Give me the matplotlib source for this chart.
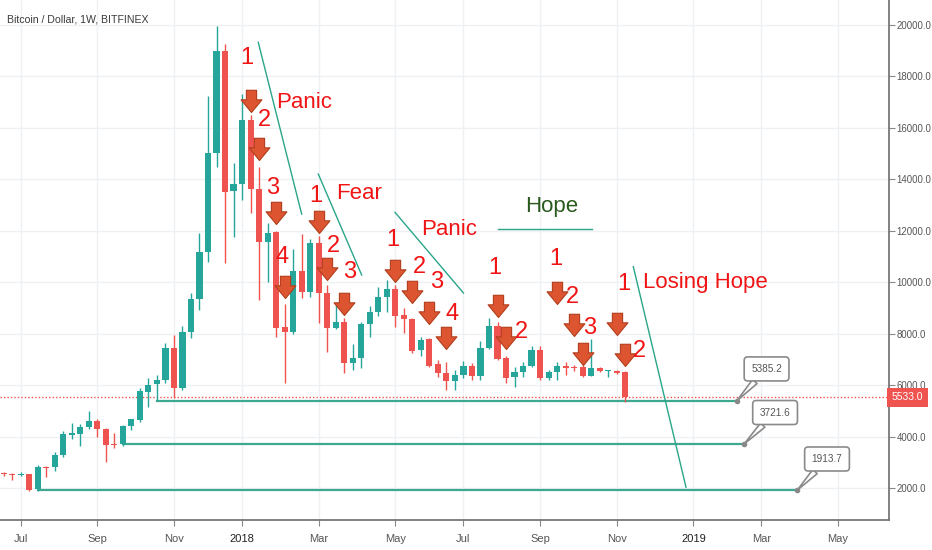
import matplotlib
matplotlib.use('Agg')
import matplotlib.pyplot as plt
import matplotlib.transforms as mtransforms
from matplotlib.path import Path
import numpy as np

plt.rcParams['font.family'] = ['Liberation Sans', 'DejaVu Sans']

# weekly candles, week 0 = 2017-07-03
weeks = np.arange(-2, 72)
opens = [2580, 2540, 2490, 2544, 1950, 2830, 2800, 3283, 4050, 4100, 4360, 4617, 4283, 3710,
         3722, 4410, 4644, 5745, 6044, 6200, 7430, 5890, 8077, 9348, 11188, 15025, 19003, 13560,
         13820, 16310, 13625, 11580, 11940, 8270, 8077, 10450, 9610, 11540, 9570, 8230, 8470, 6850,
         7040, 8380, 8830, 9440, 9725, 8730, 8570, 7365, 7785, 6820, 6490, 6170, 6390, 6740,
         6350, 7430, 8300, 7040, 6300, 6520, 6740, 7370, 6260, 6520, 6760, 6700, 6700, 6350,
         6660, 6540, 6550, 6510]
highs = [2620, 2580, 2620, 2560, 2900, 2850, 3410, 4200, 4540, 4500, 5005, 4700, 4350, 4120,
         4450, 4700, 5900, 6263, 6393, 7640, 7950, 8300, 9570, 11900, 17240, 19963, 19263, 14630,
         17320, 16500, 14500, 12290, 12000, 9150, 11290, 11875, 11700, 11790, 9900, 9240, 8600, 7600,
         8450, 9080, 9825, 10090, 9900, 8990, 8600, 7860, 7850, 6980, 6910, 6590, 6940, 6850,
         7730, 8600, 8450, 7150, 6690, 6910, 7520, 7520, 6600, 6910, 6910, 6780, 6780, 7785,
         6700, 6600, 6600, 6550]
lows = [2480, 2320, 2450, 1880, 1900, 2440, 2650, 3200, 3893, 3650, 4300, 3970, 3022, 3550,
        3650, 4250, 4550, 5160, 5385, 6080, 5500, 5800, 7820, 8920, 10800, 14500, 10760, 11760,
        13200, 12690, 9310, 10020, 7880, 6070, 8000, 9376, 9440, 8416, 7300, 8200, 6490, 6590,
        6650, 7880, 8690, 8860, 8270, 8020, 7260, 7130, 6700, 6330, 5810, 5810, 6260, 6200,
        6200, 7400, 6980, 6070, 5935, 6300, 6690, 6200, 6200, 6200, 6400, 6550, 6300, 6350,
        6500, 6330, 6440, 5350]
closes = [2530, 2490, 2520, 1920, 2830, 2780, 3283, 4100, 4127, 4385, 4617, 4283, 3670, 3660,
          4410, 4670, 5783, 6005, 6200, 7430, 5890, 8077, 9348, 11188, 15025, 19003, 13520, 13820,
          16310, 13625, 11580, 11900, 8230, 8077, 10450, 9610, 11540, 9570, 8230, 8470, 6850, 7040,
          8380, 8830, 9440, 9725, 8700, 8570, 7340, 7750, 6740, 6460, 6170, 6390, 6740, 6350,
          7430, 8300, 7020, 6260, 6520, 6740, 7370, 6260, 6520, 6740, 6650, 6650, 6350, 6650,
          6540, 6590, 6490, 5533]
last_price = 5533.0

tick_weeks = [0, 9, 18, 26, 35, 44, 52, 61, 70, 79, 87, 96]
tick_labels = ['Jul', 'Sep', 'Nov', '2018', 'Mar', 'May', 'Jul', 'Sep', 'Nov', '2019', 'Mar', 'May']

# support levels with callouts
levels = [5385.2, 3721.6, 1913.7]
level_start = [16, 12, 2]
level_end = [84.1, 85.0, 91.2]
callout_weeks = [87.6, 88.6, 94.7]
callout_prices = [6630, 4935, 3128]

# down arrows (tip position)
arrow_weeks = [27, 28, 30, 31, 35, 36, 38, 44, 46, 48, 50, 56, 57, 63, 65, 66, 70, 71]
arrow_prices = [16620, 14750, 12260, 9390, 11910, 10090, 8730, 10010, 9190, 8380, 7400,
                8650, 7390, 9150, 7910, 6780, 7950, 6740]

# counting digits
count_texts = ['1', '2', '3', '4', '1', '2', '3', '1', '2', '3', '4', '1', '2', '1', '2', '3', '1', '2']
count_weeks = [26.6, 28.6, 29.6, 30.7, 34.7, 36.7, 38.6, 43.7, 46.8, 48.8, 50.7, 55.7, 58.8,
               62.8, 64.8, 66.8, 70.8, 72.7]
count_prices = [18720, 16300, 13650, 11000, 13350, 11400, 10400, 11640, 10600, 10020, 8760,
                10560, 8080, 10920, 9410, 8210, 9950, 7330]

# phase words
phase_texts = ['Panic', 'Fear', 'Panic', 'Hope', 'Losing Hope']
phase_weeks = [30.0, 37.0, 47.0, 59.2, 73.1]
phase_prices = [17000, 13470, 12040, 12964, 10000]
phase_colors = ['#f01414', '#f01414', '#f01414', '#2b5a1e', '#f01414']

# trend lines
trend_w0 = [27.9, 34.95, 43.96, 56.0, 71.95]
trend_p0 = [19330, 14208, 12719, 12058, 10605]
trend_w1 = [33.0, 40.05, 52.0, 67.1, 78.14]
trend_p1 = [12650, 10280, 9582, 12058, 2027]

UP = '#26a69a'
DOWN = '#ef5350'

fig = plt.figure(figsize=(9.32, 5.5), dpi=100)
ax = fig.add_axes([0, 30 / 550, 889 / 932, 520 / 550])

o = np.array(opens, float)
h = np.array(highs, float)
l = np.array(lows, float)
c = np.array(closes, float)
col = np.where(c >= o, UP, DOWN)

ax.vlines(weeks, l, h, colors=col, lw=1, zorder=3)
body = np.maximum(np.abs(c - o), 40)
ax.bar(weeks, body, bottom=np.minimum(o, c), width=0.72, color=col, lw=0, zorder=3)

# levels
for lv, s, e in zip(levels, level_start, level_end):
    ax.plot([s, e], [lv, lv], color='#3fa98f', lw=1.6, zorder=2)
    ax.plot(e, lv, 'o', ms=3, color='#888888', zorder=4)
for lv, e, cw, cp in zip(levels, level_end, callout_weeks, callout_prices):
    ax.annotate('%.1f' % lv, xy=(e, lv), xytext=(cw, cp), ha='center', va='center',
                fontsize=7.2, color='#555555', zorder=6,
                bbox=dict(boxstyle='round,pad=0.7,rounding_size=0.35', fc='white', ec='#8a8a8a', lw=1.2),
                arrowprops=dict(arrowstyle='wedge,tail_width=0.6,shrink_factor=0.5',
                                fc='white', ec='#8a8a8a', lw=1.2, shrinkA=0, shrinkB=0))

# trend lines
for w0, p0, w1, p1 in zip(trend_w0, trend_p0, trend_w1, trend_p1):
    ax.plot([w0, w1], [p0, p1], color='#2aa58a', lw=1, zorder=4)

# current price
ax.axhline(last_price, color=DOWN, lw=1, ls=(0, (1, 1.5)), zorder=2)
trans = mtransforms.blended_transform_factory(ax.transAxes, ax.transData)
ax.text(1.003, last_price, '%.1f' % last_price, transform=trans, ha='left', va='center',
        color='white', fontsize=7.4, clip_on=False, zorder=10,
        bbox=dict(boxstyle='square,pad=0.45', fc=DOWN, ec='none'))

# arrows
arrow_path = Path([(0, 0), (0.47, 0.57), (0.23, 0.57), (0.23, 1.0), (-0.23, 1.0),
                   (-0.23, 0.57), (-0.47, 0.57), (0, 0)],
                  [Path.MOVETO] + [Path.LINETO] * 6 + [Path.CLOSEPOLY])
ax.plot(arrow_weeks, arrow_prices, ls='none', marker=arrow_path, ms=32,
        mfc='#dc5530', mec='#b23d1c', mew=0.8, zorder=7)

for t, w, p in zip(count_texts, count_weeks, count_prices):
    ax.text(w, p, t, ha='center', va='center', fontsize=17, color='#f01414', zorder=8)
for t, w, p, cc in zip(phase_texts, phase_weeks, phase_prices, phase_colors):
    ax.text(w, p, t, ha='left', va='center', fontsize=16, color=cc, zorder=8)

ax.text(0.008, 0.963, 'Bitcoin / Dollar, 1W, BITFINEX', transform=ax.transAxes,
        ha='left', va='center', fontsize=7.6, color='#3a3a3a')

ax.set_xlim(-2.43, 101.98)
ax.set_ylim(756, 20974)
ax.set_xticks(tick_weeks)
ax.set_xticklabels(tick_labels)
for lab in ax.get_xticklabels():
    if lab.get_text() in ('2018', '2019'):
        lab.set_color('#222222')
    else:
        lab.set_color('#555555')
ax.set_yticks(np.arange(2000, 20001, 2000))
ax.set_yticklabels(['%.1f' % v for v in np.arange(2000, 20001, 2000)])
ax.yaxis.tick_right()
ax.tick_params(axis='x', length=4, color='#888888', labelsize=8, pad=6)
ax.tick_params(axis='y', length=4, color='#888888', labelsize=6.9, labelcolor='#555555', pad=1.5)
ax.grid(True, color='#eef0f4', lw=1, zorder=0)
ax.set_axisbelow(True)
for side in ('top', 'left'):
    ax.spines[side].set_visible(False)
for side in ('right', 'bottom'):
    ax.spines[side].set_color('#777777')
    ax.spines[side].set_linewidth(1.3)

fig.savefig('out.png', dpi=100)
